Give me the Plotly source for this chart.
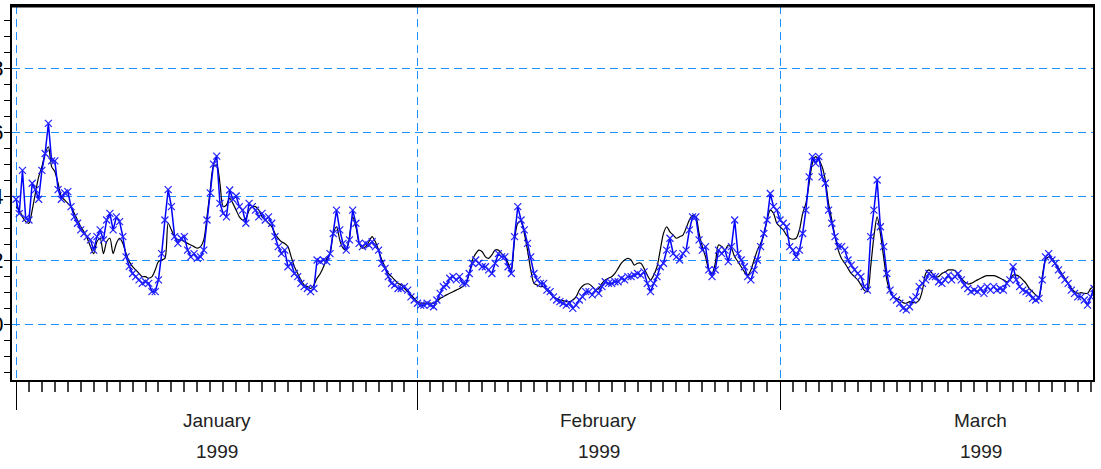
import pandas as pd
import plotly.graph_objects as go

# Six-hourly observations starting 1 January 1999 (blue, with markers)
observed = [
    3.90, 3.45, 4.80, 3.30,
    3.25, 4.40, 4.20, 3.90,
    4.80, 5.33, 6.27, 5.10,
    5.10, 4.20, 3.90, 4.10,
    4.14, 3.67, 3.35, 3.15,
    2.94, 2.83, 2.73, 2.63,
    2.31, 2.73, 2.94, 2.63,
    3.25, 3.46, 2.94, 3.35,
    3.20, 2.73, 2.10, 1.80,
    1.58, 1.48, 1.38, 1.27,
    1.32, 1.27, 1.01, 1.01,
    1.38, 2.20, 3.25, 4.20,
    3.67, 2.73, 2.52, 2.68,
    2.73, 2.31, 2.10, 2.20,
    2.05, 2.10, 2.31, 3.25,
    4.10, 5.00, 5.25, 3.77,
    3.46, 3.35, 4.19, 3.90,
    4.00, 3.67, 3.56, 3.15,
    3.77, 3.67, 3.56, 3.35,
    3.46, 3.25, 3.35, 3.15,
    2.73, 2.42, 2.20, 2.31,
    1.79, 1.90, 1.58, 1.48,
    1.27, 1.17, 1.11, 1.01,
    1.11, 2.00, 1.95, 2.00,
    1.95, 2.20, 2.83, 3.56,
    2.94, 2.52, 2.31, 2.63,
    3.56, 3.15, 2.52, 2.42,
    2.52, 2.47, 2.57, 2.42,
    2.31, 1.90, 1.74, 1.48,
    1.27, 1.22, 1.11, 1.11,
    1.17, 1.06, 0.85, 0.75,
    0.65, 0.59, 0.59, 0.65,
    0.59, 0.54, 0.75, 0.96,
    1.17, 1.22, 1.43, 1.48,
    1.38, 1.48, 1.27, 1.27,
    1.58, 1.90, 2.00, 1.90,
    1.79, 1.79, 1.69, 1.58,
    1.90, 2.20, 2.10, 2.10,
    1.79, 1.58, 2.73, 3.67,
    3.25, 2.94, 2.52, 2.10,
    1.58, 1.38, 1.27, 1.27,
    1.06, 1.01, 0.85, 0.75,
    0.70, 0.65, 0.59, 0.65,
    0.49, 0.59, 0.75, 0.85,
    1.01, 1.01, 0.91, 1.06,
    0.96, 1.17, 1.32, 1.27,
    1.27, 1.32, 1.32, 1.43,
    1.38, 1.48, 1.48, 1.53,
    1.58, 1.53, 1.63, 1.27,
    1.01, 1.27, 1.48, 1.79,
    1.90, 2.31, 2.68, 2.20,
    2.10, 2.00, 2.20, 2.31,
    2.94, 3.35, 3.35, 2.63,
    2.31, 2.42, 1.69, 1.48,
    1.69, 2.31, 2.20, 2.31,
    1.95, 2.42, 3.25, 2.20,
    2.00, 1.79, 1.48, 1.38,
    1.69, 2.00, 2.42, 2.83,
    3.25, 4.08, 3.67, 3.56,
    3.25, 3.15, 3.04, 2.42,
    2.31, 2.10, 2.31, 2.83,
    3.56, 4.60, 5.23, 5.02,
    5.23, 4.60, 4.40, 3.56,
    3.15, 2.73, 2.42, 2.42,
    2.31, 2.00, 1.84, 1.69,
    1.58, 1.48, 1.17, 1.06,
    2.73, 3.56, 4.50, 3.04,
    2.42, 1.58, 1.06, 0.85,
    0.75, 0.65, 0.49, 0.44,
    0.54, 0.75, 0.85, 1.17,
    1.27, 1.38, 1.58, 1.48,
    1.48, 1.32, 1.27, 1.38,
    1.53, 1.38, 1.48, 1.58,
    1.38, 1.22, 1.11, 1.01,
    1.06, 1.01, 1.11, 0.96,
    1.17, 1.06, 1.17, 1.06,
    1.11, 1.06, 1.27, 1.38,
    1.79, 1.38, 1.17, 1.06,
    1.01, 0.96, 0.80, 0.75,
    0.80, 1.38, 2.10, 2.20,
    2.00, 1.90, 1.69, 1.53,
    1.38, 1.27, 1.06, 0.96,
    0.85, 0.85, 0.75, 0.59,
    0.85, 1.11,
]

# Six-hourly fitted values on the same time grid (black line)
fitted = [
    3.67, 3.56, 3.35, 3.20,
    3.15, 3.56, 4.10, 4.60,
    4.92, 5.33, 5.54, 4.92,
    4.76, 4.40, 3.98, 3.88,
    3.77, 3.67, 3.46, 3.25,
    3.04, 2.88, 2.68, 2.42,
    2.20, 2.57, 2.68, 2.20,
    2.57, 2.68, 2.20, 2.52,
    2.68, 2.52, 2.20, 1.95,
    1.79, 1.69, 1.58, 1.48,
    1.48, 1.43, 1.48, 1.69,
    1.95, 2.00, 2.05, 3.15,
    2.94, 2.73, 2.63, 2.63,
    2.57, 2.52, 2.47, 2.42,
    2.37, 2.42, 2.63, 3.35,
    4.19, 4.92, 4.97, 4.40,
    3.67, 3.72, 3.93, 3.77,
    3.56, 3.35, 3.25, 3.30,
    3.56, 3.67, 3.67, 3.56,
    3.35, 3.25, 3.15, 3.04,
    2.83, 2.68, 2.57, 2.52,
    2.42, 2.10, 1.79, 1.58,
    1.38, 1.22, 1.17, 1.11,
    1.22, 1.43, 1.58, 1.79,
    2.05, 2.20, 2.83, 3.04,
    2.63, 2.37, 2.31, 2.73,
    3.35, 3.04, 2.52, 2.37,
    2.42, 2.57, 2.73, 2.57,
    2.31, 2.00, 1.79, 1.58,
    1.48, 1.38, 1.27, 1.22,
    1.11, 1.01, 0.91, 0.80,
    0.70, 0.65, 0.65, 0.65,
    0.65, 0.65, 0.70, 0.80,
    0.85, 0.91, 0.96, 1.01,
    1.06, 1.11, 1.17, 1.27,
    1.58, 2.00, 2.20, 2.31,
    2.26, 2.10, 2.05, 2.16,
    2.31, 2.31, 2.20, 2.10,
    1.90, 1.69, 2.63, 3.15,
    3.20, 2.83, 2.31, 1.69,
    1.27, 1.22, 1.17, 1.17,
    1.06, 0.96, 0.85, 0.80,
    0.75, 0.73, 0.70, 0.70,
    0.75, 0.85, 1.06, 1.19,
    1.25, 1.25, 1.17, 1.08,
    1.11, 1.27, 1.38, 1.43,
    1.48, 1.58, 1.74, 1.90,
    2.00, 2.05, 2.00, 1.84,
    1.90, 1.90, 1.74, 1.53,
    1.38, 1.53, 1.79, 2.31,
    2.83, 3.04, 2.88, 2.78,
    2.68, 2.73, 2.78, 3.00,
    3.25, 3.40, 3.35, 2.83,
    2.42, 2.10, 1.69, 1.58,
    1.90, 2.47, 2.42, 2.31,
    2.47, 2.37, 2.10, 1.95,
    1.79, 1.63, 1.53, 1.69,
    2.00, 2.31, 2.52, 2.78,
    3.25, 3.56, 3.46, 3.15,
    3.04, 2.94, 2.78, 2.68,
    2.65, 2.68, 2.94, 3.46,
    3.77, 4.40, 5.02, 5.23,
    5.13, 4.92, 4.50, 3.77,
    3.25, 2.73, 2.31, 2.05,
    1.90, 1.74, 1.58, 1.48,
    1.38, 1.22, 1.06, 1.01,
    1.79, 2.73, 3.35, 2.83,
    2.10, 1.38, 1.01, 0.85,
    0.80, 0.75, 0.67, 0.65,
    0.70, 0.67, 0.67, 0.75,
    1.06, 1.58, 1.69, 1.58,
    1.48, 1.48, 1.58, 1.63,
    1.69, 1.69, 1.67, 1.53,
    1.43, 1.32, 1.25, 1.27,
    1.32, 1.38, 1.43, 1.48,
    1.51, 1.51, 1.51, 1.48,
    1.43, 1.38, 1.32, 1.38,
    1.53, 1.53, 1.48, 1.38,
    1.27, 1.11, 1.01, 0.91,
    0.85, 1.48, 2.00, 2.10,
    2.05, 1.90, 1.74, 1.58,
    1.43, 1.27, 1.11, 1.01,
    0.96, 0.98, 0.96, 0.96,
    1.11, 1.17,
]

month_names = ["January", "February", "March"]
month_centres = ["1999-01-16 12:00", "1999-02-15 00:00", "1999-03-16 12:00"]
year_text = "1999"

times = pd.date_range("1999-01-01", periods=len(observed), freq="6h")

GRID_BLUE = "#1e8fff"
LABEL_FONT = "Liberation Sans Narrow, Arial Narrow, Liberation Sans, Arial, sans-serif"

fig = go.Figure()
fig.add_trace(go.Scatter(
    x=times, y=fitted, mode="lines",
    line=dict(color="black", width=1.2, shape="spline", smoothing=0.8),
    hoverinfo="skip",
))
fig.add_trace(go.Scatter(
    x=times, y=observed, mode="lines+markers",
    line=dict(color="#0000ff", width=1.5),
    marker=dict(symbol="x-thin", size=7, line=dict(color="#2222ff", width=1.2)),
))

for name, centre in zip(month_names, month_centres):
    fig.add_annotation(x=centre, y=-0.107, xref="x", yref="paper", text=name,
                       showarrow=False, yanchor="middle",
                       font=dict(family=LABEL_FONT, size=19, color="#222"))
    fig.add_annotation(x=centre, y=-0.19, xref="x", yref="paper", text=year_text,
                       showarrow=False, yanchor="middle",
                       font=dict(family=LABEL_FONT, size=19, color="#222"))

# heavier top frame edge
fig.add_shape(type="line", xref="paper", yref="paper", x0=0, x1=1, y0=1, y1=1,
              line=dict(color="black", width=3))

fig.update_layout(
    width=1101, height=469,
    margin=dict(l=12, r=8, t=6, b=89),
    plot_bgcolor="white", paper_bgcolor="white",
    showlegend=False,
)
fig.update_xaxes(
    type="date", range=["1998-12-31 16:35", "1999-03-25 04:05"],
    showline=True, linecolor="black", linewidth=2, mirror=True,
    ticks="outside", ticklen=28, tickcolor="black", tickwidth=1,
    tick0="1999-01-01", dtick="M1", showticklabels=False,
    showgrid=True, gridcolor=GRID_BLUE, gridwidth=1.3, griddash="8px,5px",
    zeroline=False, automargin=False,
    minor=dict(tick0="1999-01-01", dtick=86400000, ticks="outside",
               ticklen=10, tickcolor="#444", tickwidth=1.5, showgrid=False),
)
fig.update_yaxes(
    range=[-1.75, 9.94], tick0=0, dtick=2,
    showline=True, linecolor="black", linewidth=2, mirror=True,
    ticks="outside", ticklen=6, tickcolor="black", tickwidth=1,
    tickfont=dict(family=LABEL_FONT, size=22, color="black"),
    ticklabelstandoff=-4,
    showgrid=True, gridcolor=GRID_BLUE, gridwidth=1.3, griddash="8px,5px",
    zeroline=False, automargin=False,
    minor=dict(tick0=0, dtick=0.5, ticks="outside", ticklen=6,
               tickcolor="black", tickwidth=1, showgrid=False),
)

fig.write_html("out.html")
